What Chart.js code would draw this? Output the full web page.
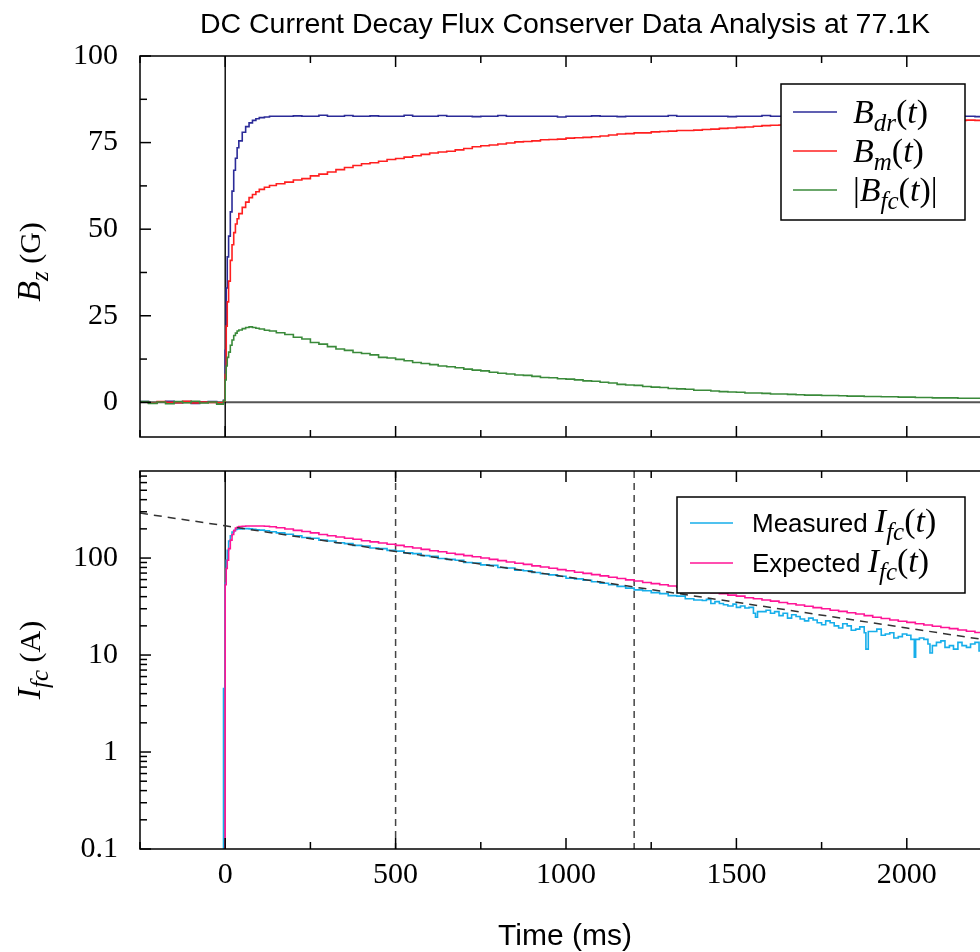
<!DOCTYPE html>
<html>
<head>
<meta charset="utf-8">
<script src="https://cdn.jsdelivr.net/npm/chart.js@4/dist/chart.umd.min.js"></script>
<style>
  html, body { margin: 0; padding: 0; overflow: hidden; background: #fff; width: 980px; height: 952px; }
  canvas { position: absolute; left: 0; }
  #top { top: 0; }
  #bottom { top: 452px; }
</style>
</head>
<body>
<canvas id="top" width="1000" height="452"></canvas>
<canvas id="bottom" width="1000" height="500"></canvas>
<script>
// time (ms)
const T = [
  -250, -225, -200, -175, -150, -125, -100, -75, -50, -25,
  -5, 0, 3, 6, 10, 15, 20, 25, 30, 35,
  40, 50, 60, 70, 80, 90, 100, 115, 130, 150,
  175, 200, 225, 250, 275, 300, 325, 350, 375, 400,
  425, 450, 475, 500, 525, 550, 575, 600, 625, 650,
  675, 700, 725, 750, 775, 800, 825, 850, 875, 900,
  925, 950, 975, 1000, 1025, 1050, 1075, 1100, 1125, 1150,
  1175, 1200, 1225, 1250, 1275, 1300, 1325, 1350, 1375, 1400,
  1425, 1450, 1475, 1500, 1525, 1550, 1575, 1600, 1625, 1650,
  1675, 1700, 1725, 1750, 1775, 1800, 1825, 1850, 1875, 1900,
  1925, 1950, 1975, 2000, 2025, 2050, 2075, 2100, 2125, 2150,
  2175, 2200, 2225, 2250
];

// B_dr(t) in G
const bDr = [
  0.2, -0.2, 0.1, 0.3, -0.1, 0.2, -0.3, 0.1, 0.2, -0.2,
  0.6, 15, 33, 42, 48, 55, 61, 67, 70.5, 73.5,
  75.5, 78, 79.6, 80.7, 81.4, 81.9, 82.2, 82.4, 82.6, 82.6,
  82.6, 82.7, 82.6, 82.6, 82.9, 82.6, 82.6, 82.8, 82.6, 82.6,
  82.7, 82.6, 82.6, 82.6, 82.9, 82.6, 82.6, 82.6, 82.8, 82.6,
  82.6, 82.6, 82.5, 82.6, 82.6, 82.8, 82.6, 82.6, 82.6, 82.6,
  82.6, 82.6, 82.4, 82.6, 82.6, 82.6, 82.7, 82.6, 82.6, 82.5,
  82.6, 82.6, 82.6, 82.6, 82.6, 82.8, 82.6, 82.6, 82.6, 82.6,
  82.6, 82.6, 82.5, 82.6, 82.6, 82.6, 82.8, 82.6, 82.6, 82.6,
  82.6, 82.6, 82.6, 82.6, 82.6, 82.6, 82.6, 82.6, 82.6, 82.6,
  82.6, 82.6, 82.6, 82.6, 82.6, 82.6, 82.6, 82.6, 82.6, 82.6,
  82.6, 82.5, 82.6, 82.6
];

// B_m(t) in G
const bM = [
  0.1, -0.2, 0.2, 0, -0.1, 0.3, -0.2, 0.1, 0, -0.1,
  0.4, 8, 22, 29, 35, 41, 45.5, 49, 51.5, 53,
  54.5, 56.3, 57.8, 59.1, 60, 60.8, 61.5, 62.1, 62.6, 63.1,
  63.6, 64.2, 64.6, 65.4, 65.9, 66.5, 67.2, 67.8, 68.4, 68.9,
  69.2, 69.6, 70.1, 70.4, 70.8, 71.2, 71.6, 72.0, 72.3, 72.5,
  72.9, 73.3, 73.8, 74.1, 74.3, 74.6, 74.9, 75.2, 75.3, 75.5,
  75.8, 75.9, 76.0, 76.3, 76.4, 76.5, 76.7, 76.9, 77.2, 77.5,
  77.6, 77.8, 77.8, 78.1, 78.2, 78.3, 78.5, 78.5, 78.6, 78.8,
  78.9, 79.1, 79.2, 79.4, 79.5, 79.7, 79.9, 80.0, 80.1, 80.2,
  80.3, 80.4, 80.6, 80.6, 80.7, 80.8, 80.9, 80.9, 81.0, 81.1,
  81.1, 81.1, 81.2, 81.3, 81.2, 81.3, 81.4, 81.3, 81.4, 81.4,
  81.5, 81.4, 81.5, 81.5
];

// |B_fc(t)| in G
const bFc = [
  0.2, -0.3, 0.1, -0.4, 0.2, -0.1, 0.3, -0.2, 0.1, -0.5,
  0.5, 6.5, 10.5, 13, 14.5, 16.5, 18, 19.3, 20, 20.6,
  20.9, 21.3, 21.6, 21.8, 21.6, 21.4, 21.2, 20.8, 20.6, 20.1,
  19.6, 18.8, 18.3, 17.3, 16.8, 16.1, 15.4, 15.0, 14.4, 14.1,
  13.7, 13.0, 12.8, 12.4, 12.0, 11.5, 11.2, 10.9, 10.5, 10.3,
  10.0, 9.6, 9.3, 9.1, 8.7, 8.4, 8.2, 7.9, 7.8, 7.5,
  7.2, 7.1, 6.8, 6.7, 6.5, 6.2, 6.1, 5.8, 5.6, 5.2,
  5.0, 4.9, 4.6, 4.4, 4.3, 4.0, 3.9, 3.8, 3.5, 3.5,
  3.3, 3.1, 3.0, 2.9, 2.7, 2.7, 2.6, 2.4, 2.4, 2.3,
  2.2, 2.1, 2.1, 2.0, 2.0, 1.9, 1.8, 1.8, 1.7, 1.7,
  1.6, 1.6, 1.5, 1.5, 1.4, 1.4, 1.3, 1.3, 1.3, 1.2,
  1.2, 1.2, 1.1, 1.1
];

// measured I_fc(t) in A, on T up to 1375 ms
const iMeas = [
  0.01, 0.01, 0.01, 0.01, 0.01, 0.01, 0.01, 0.01, 0.01, 0.01,
  4.5, 55, 95, 120, 150, 170, 185, 192, 197, 199,
  200, 201, 201, 200, 198, 196, 194, 191, 187, 182,
  176, 170, 163, 160, 153, 150, 144, 141, 135, 133,
  127, 125, 120, 118, 113, 111, 106, 104, 99, 97,
  95, 90, 89, 85, 84, 80, 79, 75, 74, 71,
  69, 67, 65, 62, 61, 59, 57, 55, 53, 51,
  49, 47, 46, 44, 43, 41, 40.5, 38, 37
];

// measured I_fc(t) after 1400 ms, sampled finer (noisy part)
const tLate = [
  1400, 1412, 1425, 1437, 1450, 1462, 1475, 1490, 1500, 1512,
  1525, 1537, 1550, 1556, 1562, 1575, 1587, 1600, 1612, 1625,
  1637, 1650, 1662, 1675, 1687, 1700, 1712, 1725, 1737, 1750,
  1762, 1775, 1787, 1800, 1812, 1825, 1837, 1850, 1862, 1875,
  1880, 1887, 1900, 1912, 1925, 1937, 1950, 1962, 1975, 1987,
  2000, 2012, 2022, 2026, 2037, 2050, 2062, 2068, 2075, 2087,
  2100, 2112, 2125, 2137, 2150, 2162, 2175, 2187, 2200, 2212,
  2225, 2237, 2250
];
const iLate = [
  36.5, 37.5, 34, 35.5, 34, 33, 32, 33.5, 31, 32,
  30.5, 31, 27, 24.5, 28, 28, 29, 27, 28, 25.5,
  27, 24, 26, 25, 23.5, 22.5, 24, 23, 21.5, 20.5,
  22.5, 21.5, 20, 19, 21, 20, 18, 18.5, 19.5, 17,
  11.5, 17.5, 17.5, 18.5, 16, 16.5, 17, 15, 15.5, 16.5,
  16, 14.5, 9.5, 14.5, 15, 14.5, 13, 10.5, 12.5, 13.5,
  14, 12, 12.5, 11.5, 13.5, 12.5, 12, 13, 13.5, 11,
  11.5, 12.5, 13
];

// expected I_fc(t) in A
const iExp = [
  0.01, 0.01, 0.01, 0.01, 0.01, 0.01, 0.01, 0.01, 0.01, 0.01,
  0.01, 53, 78, 95, 125, 153, 175, 192, 204, 208,
  211, 213, 214, 214, 214, 214, 214, 213, 210, 205,
  199, 193, 188, 182, 175, 170, 165, 160, 156, 151,
  147, 143, 139, 135, 131, 127, 123, 119, 116, 112,
  109, 106, 103, 100, 97, 94, 91, 88.5, 86, 83,
  81, 78.5, 76, 74, 71.5, 69.5, 67.5, 65.5, 63.5, 61.5,
  59.5, 58, 56, 54.5, 53, 51.5, 50, 48.5, 47, 45.5,
  44, 43, 41.5, 40.5, 39, 38, 37, 36, 34.8, 33.8,
  32.8, 31.8, 30.8, 30, 29, 28.2, 27.3, 26.5, 25.5, 24.5,
  23.8, 23.0, 22.3, 21.7, 21.0, 20.4, 19.8, 19.2, 18.7, 18.1,
  17.6, 17.1, 16.6, 16.1
];

// exponential fit (dashed), read at a few times
const fitT = [-250, 0, 500, 1000, 1500, 2000, 2250];
const fitI = [291, 215, 117, 64, 35, 19, 14];

// dashed vertical markers
const cutT = [500, 1200];

// ticks
const xMajor = [0, 500, 1000, 1500, 2000];
const xMinor = [-250, 250, 750, 1250, 1750, 2250];
const bMajor = [0, 25, 50, 75, 100];
const bMinor = [12.5, 37.5, 62.5, 87.5];
const iMajor = [0.1, 1, 10, 100];
const iMinor = [0.2, 0.3, 0.4, 0.5, 0.6, 0.7, 0.8, 0.9,
  2, 3, 4, 5, 6, 7, 8, 9, 20, 30, 40, 50, 60, 70, 80, 90,
  200, 300, 400, 500, 600, 700];

const SERIF = '"Liberation Serif", "DejaVu Serif", serif';
const SANS = '"Liberation Sans", Arial, sans-serif';
const rm = s => `${s}px ${SERIF}`;
const it = s => `italic ${s}px ${SERIF}`;
const sf = s => `${s}px ${SANS}`;

const pts = (xs, ys) => xs.map((t, i) => ({ x: t, y: ys[i] }));

function line(ctx, x1, y1, x2, y2) {
  ctx.beginPath();
  ctx.moveTo(x1, y1);
  ctx.lineTo(x2, y2);
  ctx.stroke();
}

// draws [text, font, dy] pieces one after another
function rich(ctx, parts, x, y, align) {
  let w = 0;
  parts.forEach(p => { ctx.font = p[1]; w += ctx.measureText(p[0]).width; });
  let cx = align === 'center' ? x - w / 2 : x;
  parts.forEach(p => {
    ctx.font = p[1];
    ctx.fillText(p[0], cx, y + (p[2] || 0));
    cx += ctx.measureText(p[0]).width;
  });
}

const framePlugin = {
  id: 'frame',
  beforeDatasetsDraw(chart, args, o) {
    const { ctx, chartArea: a, scales: { x, y } } = chart;
    ctx.save();
    if (o.zeroLine) {
      const y0 = y.getPixelForValue(0);
      ctx.strokeStyle = '#555';
      ctx.lineWidth = 2;
      line(ctx, a.left, y0, a.right, y0);
    }
    const x0 = x.getPixelForValue(0);
    ctx.strokeStyle = '#000';
    ctx.lineWidth = 1.4;
    line(ctx, x0, a.top, x0, a.bottom);
    ctx.strokeStyle = '#444';
    ctx.lineWidth = 1.5;
    ctx.setLineDash([7, 5]);
    (o.cuts || []).forEach(v => {
      const px = x.getPixelForValue(v);
      line(ctx, px, a.top, px, a.bottom);
    });
    ctx.restore();
  },
  afterDatasetsDraw(chart, args, o) {
    const { ctx, chartArea: a, scales: { x, y } } = chart;
    ctx.save();
    ctx.strokeStyle = '#000';
    ctx.lineWidth = 1.5;
    const xt = (vals, len) => vals.forEach(v => {
      const px = x.getPixelForValue(v);
      line(ctx, px, a.bottom, px, a.bottom - len);
      line(ctx, px, a.top, px, a.top + len);
    });
    const yt = (vals, len) => vals.forEach(v => {
      const py = y.getPixelForValue(v);
      line(ctx, a.left, py, a.left + len, py);
      line(ctx, a.right, py, a.right - len, py);
    });
    xt(xMajor, 11); xt(xMinor, 7);
    yt(o.yMajor, 11); yt(o.yMinor, 7);
    ctx.strokeRect(a.left, a.top, a.right - a.left, a.bottom - a.top);

    // legend
    const L = o.legend;
    const bx = a.right - L.right - L.w, by = a.top + L.top;
    ctx.fillStyle = '#fff';
    ctx.fillRect(bx, by, L.w, L.h);
    ctx.strokeRect(bx, by, L.w, L.h);
    L.items.forEach((item, i) => {
      const ly = by + L.first + i * L.step;
      ctx.strokeStyle = item.color;
      ctx.lineWidth = 1.6;
      line(ctx, bx + L.sx, ly, bx + L.sx + L.sw, ly);
      ctx.fillStyle = '#000';
      ctx.textBaseline = 'alphabetic';
      rich(ctx, item.text, bx + L.tx, ly + L.base, 'left');
    });
    ctx.restore();
  },
  afterDraw(chart, args, o) {
    const { ctx } = chart;
    ctx.save();
    ctx.fillStyle = '#000';
    ctx.textBaseline = 'alphabetic';
    (o.texts || []).forEach(tx => {
      ctx.save();
      ctx.translate(tx.x, tx.y);
      if (tx.rot) ctx.rotate(tx.rot);
      rich(ctx, tx.parts, 0, 0, 'center');
      ctx.restore();
    });
    ctx.restore();
  }
};

const stepLine = (label, xs, ys, color, order) => ({
  label, data: pts(xs, ys), borderColor: color, borderWidth: 1.6,
  stepped: true, pointRadius: 0, fill: false, order
});

const xScale = (showLabels) => ({
  type: 'linear', min: -250, max: 2250,
  grid: { display: false, drawTicks: false },
  border: { display: false },
  afterBuildTicks: s => { s.ticks = xMajor.map(v => ({ value: v })); },
  afterFit: s => { s.height = showLabels ? 103 : 0; s.paddingLeft = 0; s.paddingRight = 0; },
  ticks: { display: showLabels, padding: 8, color: '#000', font: { family: SERIF, size: 30 },
    callback: v => String(v) }
});

const yFit = s => { s.width = 140; s.paddingTop = 0; s.paddingBottom = 0; };

const iLabel = [['I', it(34)], ['fc', it(25), 8], ['(', rm(34)], ['t', it(34)], [')', rm(34)]];

new Chart(document.getElementById('top'), {
  type: 'line',
  data: {
    datasets: [
      stepLine('B_dr(t)', T, bDr, '#2b2b98', 3),
      stepLine('B_m(t)', T, bM, '#ff1f1f', 2),
      stepLine('|B_fc(t)|', T, bFc, '#3a8a3a', 1)
    ]
  },
  options: {
    responsive: false, animation: false, devicePixelRatio: 1, events: [],
    layout: { padding: { top: 56, right: 8, bottom: 15, left: 0 } },
    scales: {
      x: xScale(false),
      y: {
        min: -10, max: 100,
        grid: { display: false, drawTicks: false },
        border: { display: false },
        afterBuildTicks: s => { s.ticks = bMajor.map(v => ({ value: v })); },
        afterFit: yFit,
        ticks: { padding: 22, color: '#000', font: { family: SERIF, size: 30 }, callback: v => String(v) }
      }
    },
    plugins: {
      legend: { display: false },
      tooltip: { enabled: false },
      frame: {
        zeroLine: true, yMajor: bMajor, yMinor: bMinor,
        legend: {
          right: 27, top: 28, w: 184, h: 136, first: 28, step: 39, sx: 12, sw: 44, tx: 72, base: 11,
          items: [
            { color: '#2b2b98', text: [['B', it(34)], ['dr', it(25), 8], ['(', rm(34)], ['t', it(34)], [')', rm(34)]] },
            { color: '#ff1f1f', text: [['B', it(34)], ['m', it(25), 8], ['(', rm(34)], ['t', it(34)], [')', rm(34)]] },
            { color: '#3a8a3a', text: [['|', rm(34)], ['B', it(34)], ['fc', it(25), 8], ['(', rm(34)], ['t', it(34)], [')|', rm(34)]] }
          ]
        },
        texts: [
          { x: 565, y: 33, parts: [['DC Current Decay Flux Conserver Data Analysis at 77.1K', sf(28.5)]] },
          { x: 40, y: 262, rot: -Math.PI / 2, parts: [['B', it(34)], ['z', it(25), 8], [' (G)', rm(30)]] }
        ]
      }
    }
  },
  plugins: [framePlugin]
});

new Chart(document.getElementById('bottom'), {
  type: 'line',
  data: {
    datasets: [
      stepLine('Measured', T.slice(0, iMeas.length).concat(tLate), iMeas.concat(iLate), '#16aeea', 3),
      stepLine('Expected', T, iExp, '#ff1496', 2),
      { label: 'fit', data: pts(fitT, fitI), borderColor: '#333', borderWidth: 1.5,
        borderDash: [8, 6], pointRadius: 0, fill: false, order: 1 }
    ]
  },
  options: {
    responsive: false, animation: false, devicePixelRatio: 1, events: [],
    layout: { padding: { top: 19, right: 8, bottom: 0, left: 0 } },
    scales: {
      x: xScale(true),
      y: {
        type: 'logarithmic', min: 0.1, max: 790,
        grid: { display: false, drawTicks: false },
        border: { display: false },
        afterBuildTicks: s => { s.ticks = iMajor.map(v => ({ value: v })); },
        afterFit: yFit,
        ticks: { padding: 22, color: '#000', font: { family: SERIF, size: 30 }, callback: v => String(v) }
      }
    },
    plugins: {
      legend: { display: false },
      tooltip: { enabled: false },
      frame: {
        zeroLine: false, cuts: cutT, yMajor: iMajor, yMinor: iMinor,
        legend: {
          right: 27, top: 26, w: 288, h: 96, first: 26, step: 40, sx: 13, sw: 43, tx: 75, base: 9,
          items: [
            { color: '#16aeea', text: [['Measured ', sf(26)]].concat(iLabel) },
            { color: '#ff1496', text: [['Expected ', sf(26)]].concat(iLabel) }
          ]
        },
        texts: [
          { x: 565, y: 493, parts: [['Time (ms)', sf(30)]] },
          { x: 40, y: 208, rot: -Math.PI / 2, parts: [['I', it(34)], ['fc', it(25), 8], [' (A)', rm(30)]] }
        ]
      }
    }
  },
  plugins: [framePlugin]
});
</script>
</body>
</html>
